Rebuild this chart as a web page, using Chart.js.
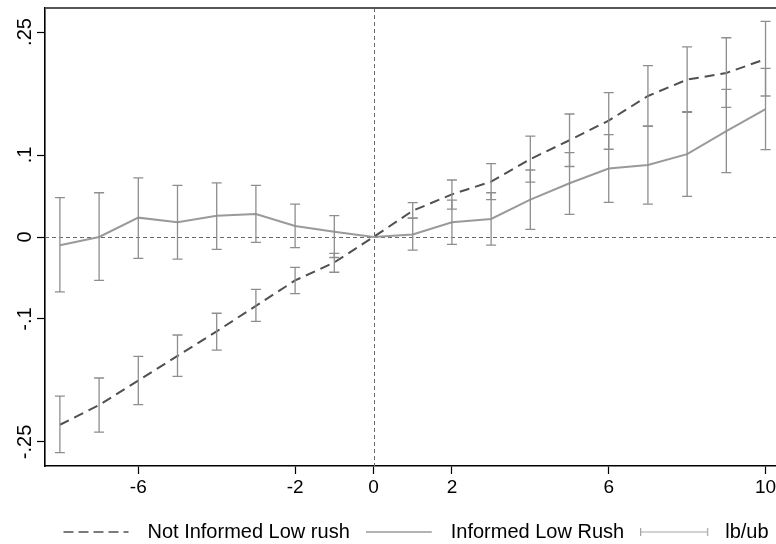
<!DOCTYPE html>
<html>
<head>
<meta charset="utf-8">
<script src="https://cdn.jsdelivr.net/npm/chart.js@4/dist/chart.umd.min.js"></script>
<style>
  html, body { margin: 0; padding: 0; background: #fff; overflow: hidden; width: 776px; height: 544px; }
  #c { display: block; }
</style>
</head>
<body>
<canvas id="c" width="831" height="552"></canvas>
<script>
// ---- data ----
const periods = [-8, -7, -6, -5, -4, -3, -2, -1, 0, 1, 2, 3, 4, 5, 6, 7, 8, 9, 10];

const notInformed   = [-0.229, -0.205, -0.175, -0.145, -0.115, -0.084, -0.053, -0.031, 0, 0.032, 0.052, 0.0675, 0.095, 0.118, 0.142, 0.172, 0.192, 0.200, 0.217];
const notInformedLo = [-0.263, -0.238, -0.2045, -0.170, -0.138, -0.103, -0.069, -0.043, null, 0.023, 0.034, 0.0455, 0.067, 0.086, 0.107, 0.135, 0.152, 0.158, 0.172];
const notInformedHi = [-0.194, -0.172, -0.1455, -0.1195, -0.093, -0.064, -0.037, -0.020, null, 0.042, 0.0695, 0.0894, 0.123, 0.150, 0.176, 0.209, 0.232, 0.243, 0.263];

const informed   = [-0.010, 0, 0.0236, 0.018, 0.026, 0.028, 0.0134, 0.0065, 0, 0.003, 0.018, 0.022, 0.0455, 0.0655, 0.0835, 0.0878, 0.101, 0.129, 0.156];
const informedLo = [-0.067, -0.053, -0.026, -0.027, -0.015, -0.0065, -0.013, -0.025, null, -0.016, -0.009, -0.0098, 0.0093, 0.0276, 0.0423, 0.0402, 0.0496, 0.0784, 0.1065];
const informedHi = [0.048, 0.054, 0.072, 0.063, 0.066, 0.063, 0.040, 0.026, null, 0.023, 0.045, 0.054, 0.0817, 0.1028, 0.1248, 0.1354, 0.153, 0.180, 0.2057];

const seriesNames = ['Not Informed Low rush', 'Informed Low Rush', 'lb/ub'];
const xTickValues = [-6, -2, 0, 2, 6, 10];
const yTickValues = [0.25, 0.1, 0, -0.1, -0.25];
const yTickLabels = ['.25', '.1', '0', '-.1', '-.25'];
const refX = [0];
const refY = [0];

// ---- styles ----
const DARK = '#505050';
const LIGHT = '#9a9a9a';
const CAP = '#8e8e8e';
const FONT = "'Liberation Sans', Arial, Helvetica, sans-serif";

function sample(kind) {
  const c = document.createElement('canvas');
  c.width = 75; c.height = 14;
  const g = c.getContext('2d');
  const y = 7;
  if (kind === 'dash') {
    g.strokeStyle = DARK; g.lineWidth = 1.6; g.setLineDash([10, 5]);
    g.beginPath(); g.moveTo(1, y); g.lineTo(66, y); g.stroke();
  } else if (kind === 'solid') {
    g.strokeStyle = LIGHT; g.lineWidth = 1.6;
    g.beginPath(); g.moveTo(0, y); g.lineTo(66, y); g.stroke();
  } else {
    g.strokeStyle = '#a6a6a6'; g.lineWidth = 1.2;
    g.beginPath(); g.moveTo(0.5, y); g.lineTo(67.5, y);
    g.moveTo(0.5, y - 4); g.lineTo(0.5, y + 4);
    g.moveTo(67.5, y - 4); g.lineTo(67.5, y + 4);
    g.stroke();
  }
  return c;
}
const legendImgs = [sample('dash'), sample('solid'), sample('cap')];

const toXY = (arr) => periods.map((p, i) => ({ x: p, y: arr[i] }));

const refLines = {
  id: 'refLines',
  beforeDatasetsDraw(chart) {
    const { ctx, chartArea: a, scales: { x, y } } = chart;
    ctx.save();
    ctx.strokeStyle = '#6a6a6a';
    ctx.lineWidth = 1;
    ctx.setLineDash([4, 3]);
    refX.forEach(v => {
      const px = Math.round(x.getPixelForValue(v)) + 0.5;
      ctx.beginPath(); ctx.moveTo(px, a.top); ctx.lineTo(px, a.bottom); ctx.stroke();
    });
    refY.forEach(v => {
      const py = Math.round(y.getPixelForValue(v)) + 0.5;
      ctx.beginPath(); ctx.moveTo(a.left, py); ctx.lineTo(a.right, py); ctx.stroke();
    });
    ctx.restore();
    // top frame line of the plot region
    ctx.save();
    ctx.strokeStyle = '#555';
    ctx.lineWidth = 2;
    ctx.beginPath(); ctx.moveTo(a.left, a.top); ctx.lineTo(a.right, a.top); ctx.stroke();
    ctx.restore();
  }
};

const errorBars = {
  id: 'errorBars',
  afterDatasetsDraw(chart) {
    const { ctx, scales: { x, y } } = chart;
    const pairs = [[notInformedLo, notInformedHi], [informedLo, informedHi]];
    ctx.save();
    ctx.strokeStyle = CAP;
    ctx.lineWidth = 1.3;
    pairs.forEach(([lo, hi]) => {
      periods.forEach((p, i) => {
        if (lo[i] === null || hi[i] === null) return;
        const px = x.getPixelForValue(p);
        const y1 = y.getPixelForValue(lo[i]);
        const y2 = y.getPixelForValue(hi[i]);
        ctx.beginPath();
        ctx.moveTo(px, y1); ctx.lineTo(px, y2);
        ctx.moveTo(px - 5, y1); ctx.lineTo(px + 5, y1);
        ctx.moveTo(px - 5, y2); ctx.lineTo(px + 5, y2);
        ctx.stroke();
      });
    });
    ctx.restore();
  }
};

new Chart(document.getElementById('c'), {
  type: 'line',
  data: {
    datasets: [
      {
        label: seriesNames[0],
        data: toXY(notInformed),
        borderColor: DARK,
        borderWidth: 2,
        borderDash: [10, 6],
        pointRadius: 0,
        tension: 0,
        fill: false
      },
      {
        label: seriesNames[1],
        data: toXY(informed),
        borderColor: LIGHT,
        borderWidth: 2,
        pointRadius: 0,
        tension: 0,
        fill: false
      }
    ]
  },
  options: {
    responsive: false,
    animation: false,
    devicePixelRatio: 1,
    layout: { padding: { top: 8, left: 0, right: 0, bottom: 0 } },
    plugins: {
      tooltip: { enabled: false },
      legend: {
        position: 'bottom',
        labels: {
          usePointStyle: true,
          pointStyleWidth: 75,
          padding: 16,
          color: '#000',
          font: { family: FONT, size: 20 },
          generateLabels: () => seriesNames.map((t, i) => ({
            text: t,
            pointStyle: legendImgs[i],
            lineWidth: 0,
            hidden: false,
            fontColor: '#000',
            datasetIndex: i < 2 ? i : undefined
          }))
        }
      }
    },
    scales: {
      x: {
        type: 'linear',
        min: -8.38,
        max: 11.67,
        afterBuildTicks: (s) => { s.ticks = xTickValues.map(v => ({ value: v })); },
        afterFit: (s) => { s.height = 40; s.paddingLeft = 0; s.paddingRight = 0; },
        ticks: {
          color: '#000',
          font: { family: FONT, size: 19 },
          padding: 2,
          maxRotation: 0,
          minRotation: 0,
          callback: (v) => String(v)
        },
        grid: { drawOnChartArea: false, drawTicks: true, tickLength: 8, tickColor: '#000', tickWidth: 1.2 },
        border: { color: '#000', width: 1.6 }
      },
      y: {
        type: 'linear',
        min: -0.2793,
        max: 0.2793,
        afterBuildTicks: (s) => { s.ticks = yTickValues.map(v => ({ value: v })); },
        afterFit: (s) => { s.width = 45; s.paddingTop = 0; s.paddingBottom = 0; },
        ticks: {
          color: '#000',
          font: { family: FONT, size: 20 },
          padding: -6,
          minRotation: 90,
          maxRotation: 90,
          crossAlign: 'center',
          callback: (v) => {
            const k = yTickValues.findIndex(t => Math.abs(t - v) < 1e-9);
            return k >= 0 ? yTickLabels[k] : '';
          }
        },
        grid: { drawOnChartArea: false, drawTicks: true, tickLength: 8, tickColor: '#000', tickWidth: 1.2 },
        border: { color: '#000', width: 1.6 }
      }
    }
  },
  plugins: [refLines, errorBars]
});
</script>
</body>
</html>
